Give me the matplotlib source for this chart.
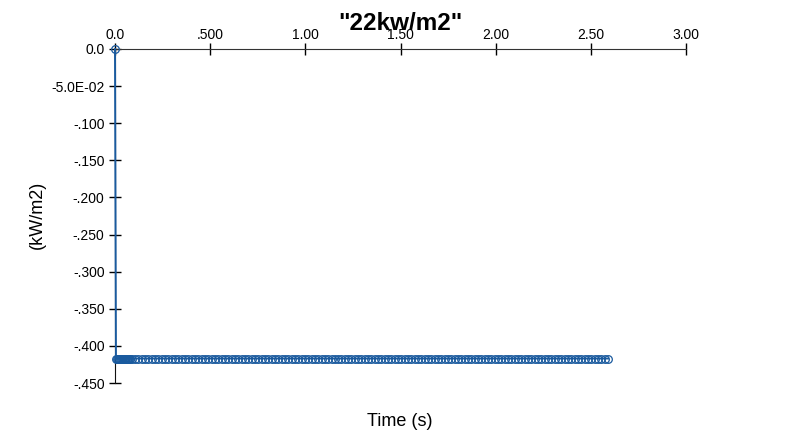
import matplotlib
matplotlib.use("Agg")
import matplotlib.pyplot as plt

plt.rcParams['font.family'] = ['Liberation Sans', 'DejaVu Sans']

# data
time_early = [0.0, 0.005, 0.01, 0.015, 0.02, 0.025, 0.03, 0.035, 0.04, 0.045, 0.05,
              0.055, 0.06, 0.065, 0.07, 0.075, 0.08]
time_late = [round(0.0175 * i, 4) for i in range(5, 149)]
time_s = time_early + time_late
flux_kw = [0.0] + [-0.417] * (len(time_s) - 1)

x_ticks = [0.0, 0.5, 1.0, 1.5, 2.0, 2.5, 3.0]
x_tick_labels = ["0.0", ".500", "1.00", "1.50", "2.00", "2.50", "3.00"]
y_ticks = [0.0, -0.05, -0.10, -0.15, -0.20, -0.25, -0.30, -0.35, -0.40, -0.45]
y_tick_labels = ["0.0", "-5.0E-02", "-.100", "-.150", "-.200", "-.250", "-.300", "-.350", "-.400", "-.450"]

fig = plt.figure(figsize=(8.0, 4.33), dpi=100)
ax = fig.add_axes([115/800, 1 - 383/433, (686-115)/800, (383-49)/433])

color = '#1a5a9e'
ax.plot(time_s, flux_kw, color=color, lw=1.4, marker='o', markersize=5.5,
        markerfacecolor='none', markeredgecolor=color, markeredgewidth=0.9, clip_on=False, zorder=3)

ax.set_xlim(0, 3.0)
ax.set_ylim(-0.45, 0)
ax.spines['bottom'].set_visible(False)
ax.spines['right'].set_visible(False)
ax.spines['top'].set_color('#333333')
ax.spines['left'].set_color('#111111')
ax.xaxis.tick_top()
ax.set_xticks(x_ticks)
ax.set_xticklabels(x_tick_labels)
ax.set_yticks(y_ticks)
ax.set_yticklabels(y_tick_labels)
ax.tick_params(axis='both', direction='inout', length=8, width=1, labelsize=10, colors='black')
ax.tick_params(axis='x', pad=1)

fig.text(400/800, 1 - 24/433, '"22kw/m2"', ha='center', va='center', fontsize=17.5, fontweight='bold')
fig.text(400/800, 1 - 421/433, 'Time (s)', ha='center', va='center', fontsize=13)
fig.text(37/800, 1 - 215/433, '(kW/m2)', ha='center', va='center', fontsize=13, rotation=90)

fig.savefig('out.png', dpi=100)
